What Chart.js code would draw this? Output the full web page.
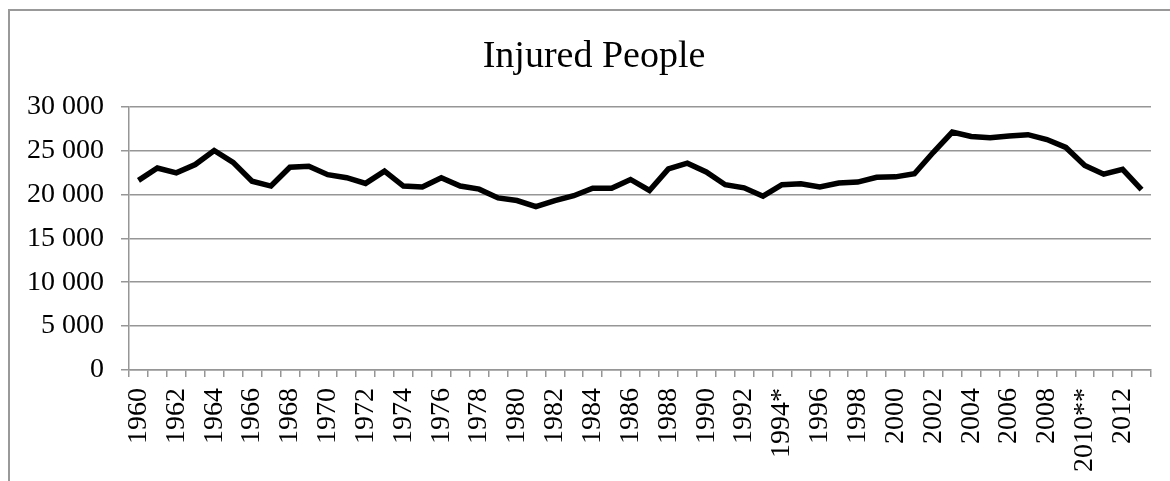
<!DOCTYPE html>
<html>
<head>
<meta charset="utf-8">
<script src="https://cdn.jsdelivr.net/npm/chart.js@4.4.0/dist/chart.umd.min.js"></script>
<style>
  html, body { margin: 0; padding: 0; background: #fff; }
  #wrap { position: relative; width: 1170px; height: 481px; overflow: hidden; }
  #frame { position: absolute; left: 8px; top: 9px; width: 1200px; height: 600px;
           border-left: 2px solid #999; border-top: 2px solid #999; }
  canvas { position: absolute; left: 0; top: 0; }
</style>
</head>
<body>
<div id="wrap">
  <div id="frame"></div>
  <canvas id="chart" width="1170" height="481"></canvas>
</div>
<script>
// Years on the category axis (* and ** as in the source)
const years = [
  '1960','1961','1962','1963','1964','1965','1966','1967','1968','1969',
  '1970','1971','1972','1973','1974','1975','1976','1977','1978','1979',
  '1980','1981','1982','1983','1984','1985','1986','1987','1988','1989',
  '1990','1991','1992','1993','1994*','1995','1996','1997','1998','1999',
  '2000','2001','2002','2003','2004','2005','2006','2007','2008','2009',
  '2010**','2011','2012','2013'
];

// Injured people per year
const injured = [
  21600, 23000, 22450, 23400, 25000, 23650, 21500, 20950, 23100, 23200,
  22250, 21900, 21250, 22650, 20950, 20850, 21900, 20950, 20600, 19600,
  19300, 18600, 19300, 19850, 20700, 20700, 21700, 20450, 22900, 23550,
  22550, 21100, 20750, 19800, 21100, 21200, 20850, 21300, 21400, 21950,
  22000, 22350, 24800, 27100, 26600, 26450, 26650, 26800, 26250, 25350,
  23300, 22300, 22850, 20550
];

const yTicks = [0, 5000, 10000, 15000, 20000, 25000, 30000];

const serif = "'Liberation Serif', 'DejaVu Serif', serif";
const gridGray = '#969696';

function fmt(v) {
  return v.toString().replace(/\B(?=(\d{3})+(?!\d))/g, ' ');
}

const ctx = document.getElementById('chart').getContext('2d');
new Chart(ctx, {
  type: 'line',
  data: {
    labels: years,
    datasets: [{
      label: 'Injured People',
      data: injured,
      borderColor: '#000',
      borderWidth: 5.5,
      pointRadius: 0,
      tension: 0,
      fill: false
    }]
  },
  options: {
    responsive: false,
    animation: false,
    // left padding only shifts the title centre; x axis keeps the right gap
    layout: { padding: { left: 18, right: 0, top: 0, bottom: 0 } },
    plugins: {
      legend: { display: false },
      tooltip: { enabled: false },
      title: {
        display: true,
        text: 'Injured People',
        color: '#000',
        font: { family: serif, size: 38, weight: 'normal', lineHeight: 1.2 },
        padding: { top: 34, bottom: 27 }
      }
    },
    scales: {
      x: {
        type: 'category',
        offset: true,
        grid: {
          offset: true,
          drawOnChartArea: false,
          drawTicks: true,
          tickLength: 7,
          color: gridGray,
          lineWidth: 1.5
        },
        border: { color: gridGray, width: 1.5 },
        ticks: {
          autoSkip: false,
          minRotation: 90,
          maxRotation: 90,
          padding: 11,
          color: '#000',
          font: { family: serif, size: 28 },
          callback: function(val, i) { return i % 2 === 0 ? years[i] : ''; }
        },
        afterFit: function(scale) {
          scale.height = 111;
          scale.paddingLeft = 0;
          scale.paddingRight = 19;
        }
      },
      y: {
        min: 0,
        max: 30000,
        afterBuildTicks: function(scale) {
          scale.ticks = yTicks.map(v => ({ value: v }));
        },
        grid: {
          color: gridGray,
          lineWidth: 1.5,
          tickLength: 8
        },
        border: { color: gridGray, width: 1.5 },
        ticks: {
          padding: 17,
          color: '#000',
          font: { family: serif, size: 28 },
          callback: v => fmt(v)
        },
        afterFit: function(scale) { scale.width = 111; }
      }
    }
  }
});
</script>
</body>
</html>
